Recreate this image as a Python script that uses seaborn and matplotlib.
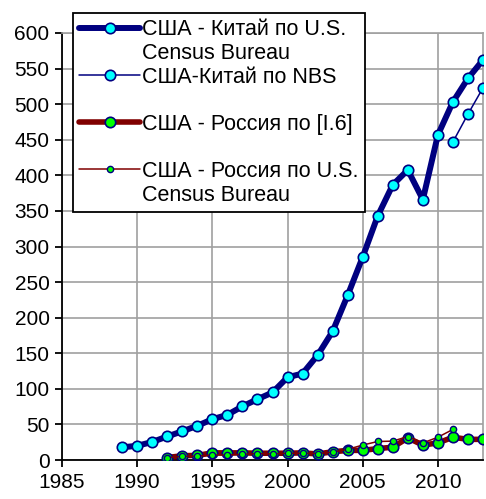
import matplotlib
matplotlib.use("Agg")
import matplotlib.pyplot as plt
from matplotlib.lines import Line2D
import seaborn as sns

# США - Китай по U.S. Census Bureau
cn_years = list(range(1989, 2014))
cn_census = [17.8, 20.0, 25.3, 33.1, 40.3, 48.1, 57.3, 63.5, 75.4, 85.4, 94.9,
             116.2, 121.5, 147.2, 180.8, 231.4, 285.3, 343.0, 386.7, 407.5,
             365.9, 456.8, 503.2, 536.2, 562.2]

# США-Китай по NBS
nbs_years = [2011, 2012, 2013]
cn_nbs = [447, 486, 523]

# США - Россия по [I.6]
ru_years = list(range(1992, 2014))
ru_i6 = [3.5, 6, 6.5, 10, 10, 10, 9.5, 9.5, 9.5, 10, 8.5, 11.5, 13.5, 13.5,
         16, 18, 31, 21, 24, 32, 29, 29]

# США - Россия по U.S. Census Bureau
ruc_years = list(range(1992, 2012))
ru_census = [3.5, 5, 5.5, 7, 7, 8, 9, 8.5, 9.5, 9.5, 9, 11, 15, 21, 26, 26.5,
             33, 24, 32, 43]

labels = ["США - Китай по U.S.", "США-Китай по NBS",
          "США - Россия по [I.6]", "США - Россия по U.S."]
label_tail = "Census Bureau"

sns.set_theme(style="white")
plt.rcParams["font.family"] = ["Liberation Sans", "DejaVu Sans"]
plt.rcParams["text.color"] = "black"
plt.rcParams["xtick.color"] = "black"
plt.rcParams["ytick.color"] = "black"

fig = plt.figure(figsize=(4.86, 4.99), dpi=100)
ax = fig.add_axes([62 / 486, 39 / 499, 421 / 486, 427 / 499])

navy = "#000080"
maroon = "#800000"

sns.lineplot(x=cn_years, y=cn_census, ax=ax, color=navy, linewidth=4.3,
             marker="o", markersize=7.5, markerfacecolor="#00FFFF",
             markeredgecolor=navy, markeredgewidth=1.2, label=labels[0], zorder=3)
sns.lineplot(x=nbs_years, y=cn_nbs, ax=ax, color=navy, linewidth=1.1,
             marker="o", markersize=7.5, markerfacecolor="#00FFFF",
             markeredgecolor=navy, markeredgewidth=1.2, label=labels[1], zorder=3)
sns.lineplot(x=ru_years, y=ru_i6, ax=ax, color=maroon, linewidth=4,
             marker="o", markersize=7.5, markerfacecolor="#00FF00",
             markeredgecolor=navy, markeredgewidth=1.2, label=labels[2], zorder=4)
sns.lineplot(x=ruc_years, y=ru_census, ax=ax, color=maroon, linewidth=1.1,
             marker="o", markersize=4.5, markerfacecolor="#00FF00",
             markeredgecolor=navy, markeredgewidth=1.0, label=labels[3], zorder=5)

ax.set_xlim(1985, 2013)
ax.set_ylim(0, 600)
ax.set_xticks(range(1985, 2011, 5))
ax.set_yticks(range(0, 601, 50))
ax.grid(True, color="#a0a0a0", linewidth=1.2)
ax.set_axisbelow(True)
for side in ["top", "right"]:
    ax.spines[side].set_color("#a0a0a0")
    ax.spines[side].set_linewidth(1.2)
for side in ["left", "bottom"]:
    ax.spines[side].set_color("black")
    ax.spines[side].set_linewidth(1.3)
ax.tick_params(axis="both", direction="out", length=5, width=1.3,
               color="black", labelsize=15, labelcolor="black", pad=4,
               bottom=True, left=True)
ax.set_xlabel("")
ax.set_ylabel("")

# legend rows laid out like the Excel box: wrapped second lines, gaps
handles, _ = ax.get_legend_handles_labels()
blank = Line2D([], [], linestyle="none", marker="none")
rows_h = [handles[0], blank, handles[1], blank, handles[2], blank,
          handles[3], blank]
rows_l = [labels[0], label_tail, labels[1], " ", labels[2], " ",
          labels[3], label_tail]
leg = ax.legend(rows_h, rows_l, loc="upper left",
                bbox_to_anchor=(73 / 486, 1 - 13 / 499),
                bbox_transform=fig.transFigure, borderaxespad=0,
                fontsize=15.5, frameon=True, fancybox=False, framealpha=1,
                edgecolor="black", handlelength=2.8, handletextpad=0.1,
                borderpad=0.3, labelspacing=0.12)
leg.get_frame().set_linewidth(1.3)
leg.set_zorder(10)

fig.savefig("out.png", dpi=100)
